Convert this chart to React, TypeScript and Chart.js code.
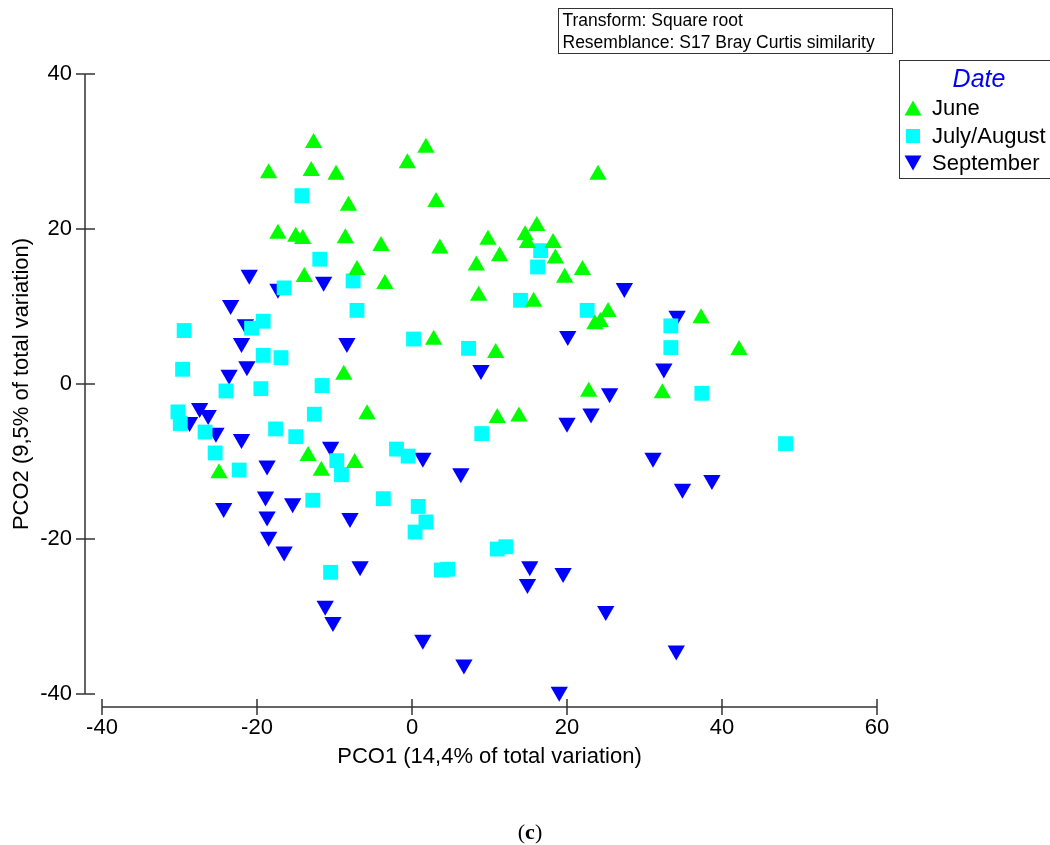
import React, { useEffect, useRef } from "react";
import { Chart, registerables } from "chart.js";

Chart.register(...registerables);

// ---- Data ----
const juneX = [-12.7, -18.5, -13.0, -9.8, -8.2, -17.3, -15.0, -14.1, -8.6, -4.0, -7.1, -13.9, -3.5, -8.8, -5.8, -13.4, -11.7, -7.4, -24.9, -0.6, 1.8, 3.1, 3.6, 2.8, 24.0, 16.1, 14.6, 14.9, 9.8, 18.2, 18.5, 11.3, 8.3, 22.0, 19.7, 8.6, 15.7, 25.3, 24.3, 23.6, 37.3, 42.2, 10.8, 22.8, 32.3, 11.0, 13.8];
const juneY = [31.1, 27.2, 27.5, 27.0, 23.0, 19.4, 19.0, 18.7, 18.8, 17.8, 14.7, 13.8, 12.9, 1.2, -3.9, -9.3, -11.2, -10.2, -11.5, 28.5, 30.5, 23.5, 17.5, 5.7, 27.0, 20.4, 19.2, 18.2, 18.6, 18.2, 16.2, 16.5, 15.3, 14.7, 13.7, 11.4, 10.6, 9.3, 8.0, 7.7, 8.5, 4.4, 4.0, -1.0, -1.2, -4.4, -4.2];

const julyAugX = [-14.2, -11.9, -16.5, -7.6, -7.1, -19.2, -20.7, -29.4, 0.2, -19.2, -16.9, -29.6, -24.0, -19.5, -11.6, -30.2, -29.9, -26.7, -12.6, -17.6, -15.0, -25.4, -22.3, -2.0, -0.5, -9.7, -9.1, -12.8, -3.7, -10.5, 0.8, 1.8, 0.4, 37.4, 48.2, 9.0, 11.0, 12.1, 3.8, 4.6, 16.6, 16.2, 14.0, 22.6, 33.4, 33.4, 7.3];
const julyAugY = [24.3, 16.1, 12.4, 13.3, 9.5, 8.1, 7.2, 6.9, 5.8, 3.7, 3.4, 1.9, -0.9, -0.6, -0.2, -3.6, -5.1, -6.2, -3.9, -5.8, -6.8, -8.9, -11.1, -8.4, -9.3, -9.9, -11.7, -15.0, -14.8, -24.3, -15.8, -17.8, -19.1, -1.2, -7.7, -6.4, -21.3, -21.0, -24.0, -23.9, 17.2, 15.1, 10.8, 9.5, 7.5, 4.7, 4.6];

const septX = [-21.0, -17.3, -11.4, -23.4, -21.5, -22.0, -21.3, -23.6, -8.4, -27.4, -26.3, -28.7, -25.3, -22.0, -10.5, -18.7, -24.3, -18.9, -15.4, -18.7, -18.5, -16.5, -8.0, -6.7, -11.2, -10.2, 25.5, 23.1, 20.0, 1.4, 6.3, 31.1, 34.9, 38.7, 15.2, 14.9, 19.5, 25.0, 1.4, 6.7, 34.1, 19.0, 27.4, 20.1, 34.2, 8.9, 32.5];
const septY = [14.1, 12.3, 13.2, 10.2, 7.7, 5.3, 2.3, 1.2, 5.3, -3.1, -4.0, -4.9, -6.3, -7.1, -8.1, -10.5, -16.0, -14.5, -15.4, -17.1, -19.7, -21.6, -17.3, -23.5, -28.6, -30.7, -1.2, -3.8, -5.0, -9.5, -11.5, -9.5, -13.5, -12.4, -23.5, -25.8, -24.4, -29.3, -33.0, -36.2, -34.4, -39.7, 12.4, 6.2, 8.8, 1.8, 2.0];

const xTicks = [-40, -20, 0, 20, 40, 60];
const yTicks = [-40, -20, 0, 20, 40];

const seriesNames = ["June", "July/August", "September"];
const seriesColors = ["#00FF00", "#00FFFF", "#0000FF"];

const FONT = "'Liberation Sans', Arial, sans-serif";

const toPoints = (xs: number[], ys: number[]) => xs.map((x, i) => ({ x, y: ys[i] }));

const detachedAxes = {
  id: "detachedAxes",
  afterDraw(chart: any) {
    const { ctx, scales } = chart;
    const xs = scales.x;
    const ys = scales.y;
    ctx.save();
    ctx.strokeStyle = "#333333";
    ctx.lineWidth = 1.5;
    const line = (x1: number, y1: number, x2: number, y2: number) => {
      ctx.beginPath();
      ctx.moveTo(x1, y1);
      ctx.lineTo(x2, y2);
      ctx.stroke();
    };
    // y axis
    const ax = xs.left - 17;
    line(ax, ys.getPixelForValue(yTicks[yTicks.length - 1]), ax, ys.getPixelForValue(yTicks[0]));
    ys.ticks.forEach((t: any) => {
      const p = ys.getPixelForValue(t.value);
      line(ax - 9, p, ax + 10, p);
    });
    // x axis
    const ay = ys.bottom + 13;
    line(xs.getPixelForValue(xTicks[0]), ay, xs.getPixelForValue(xTicks[xTicks.length - 1]), ay);
    xs.ticks.forEach((t: any) => {
      const p = xs.getPixelForValue(t.value);
      line(p, ay - 8, p, ay + 8);
    });
    ctx.restore();
  },
};

function Marker({ kind, color }: { kind: number; color: string }) {
  if (kind === 1) {
    return (
      <svg width="18" height="18" style={{ display: "block" }}>
        <rect x="2" y="2" width="14" height="14" fill={color} />
      </svg>
    );
  }
  const pts = kind === 0 ? "0.5,16.5 17.5,16.5 9,1.5" : "0.5,1.5 17.5,1.5 9,16.5";
  return (
    <svg width="18" height="18" style={{ display: "block" }}>
      <polygon points={pts} fill={color} />
    </svg>
  );
}

export default function App() {
  const canvasRef = useRef<HTMLCanvasElement | null>(null);

  useEffect(() => {
    document.body.style.margin = "0";
    const canvas = canvasRef.current;
    if (!canvas) return;
    const chart = new Chart(canvas, {
      type: "scatter",
      data: {
        datasets: [
          {
            label: seriesNames[0],
            data: toPoints(juneX, juneY),
            pointStyle: "triangle",
            pointRadius: 10,
            pointBackgroundColor: seriesColors[0],
            pointBorderWidth: 0,
            pointBorderColor: seriesColors[0],
            clip: false,
          },
          {
            label: seriesNames[1],
            data: toPoints(julyAugX, julyAugY),
            pointStyle: "rect",
            pointRadius: 10.5,
            pointBackgroundColor: seriesColors[1],
            pointBorderWidth: 0,
            pointBorderColor: seriesColors[1],
            clip: false,
          },
          {
            label: seriesNames[2],
            data: toPoints(septX, septY),
            pointStyle: "triangle",
            pointRotation: 180,
            pointRadius: 10,
            pointBackgroundColor: seriesColors[2],
            pointBorderWidth: 0,
            pointBorderColor: seriesColors[2],
            clip: false,
          },
        ],
      } as any,
      options: {
        animation: false,
        responsive: false,
        events: [],
        layout: { padding: { left: 0, right: 173, top: 74, bottom: 0 } },
        plugins: {
          legend: { display: false },
          tooltip: { enabled: false },
        },
        scales: {
          x: {
            type: "linear",
            min: -40,
            max: 60,
            afterBuildTicks: (s: any) => {
              s.ticks = xTicks.map((v) => ({ value: v }));
            },
            afterFit: (s: any) => {
              s.height = 151;
            },
            grid: { display: false, drawTicks: false },
            border: { display: false },
            ticks: { padding: 21, color: "#000", font: { family: FONT, size: 22 } },
            title: {
              display: true,
              text: "PCO1 (14,4% of total variation)",
              color: "#000",
              font: { family: FONT, size: 22 },
              padding: { top: 0, bottom: 75 },
            },
          },
          y: {
            type: "linear",
            min: -40,
            max: 40,
            afterBuildTicks: (s: any) => {
              s.ticks = yTicks.map((v) => ({ value: v }));
            },
            afterFit: (s: any) => {
              s.width = 102;
            },
            grid: { display: false, drawTicks: false },
            border: { display: false },
            ticks: { padding: 30, color: "#000", font: { family: FONT, size: 22 } },
            title: {
              display: true,
              text: "PCO2 (9,5% of total variation)",
              color: "#000",
              font: { family: FONT, size: 22 },
              padding: { top: 9, bottom: 0 },
            },
          },
        },
      } as any,
      plugins: [detachedAxes],
    });
    return () => chart.destroy();
  }, []);

  return (
    <div
      style={{
        position: "relative",
        width: 1050,
        height: 845,
        overflow: "hidden",
        background: "#fff",
        fontFamily: FONT,
      }}
    >
      <canvas ref={canvasRef} width={1050} height={845} style={{ display: "block", width: 1050, height: 845 }} />

      <div
        style={{
          position: "absolute",
          left: 558,
          top: 8,
          width: 335,
          height: 46,
          boxSizing: "border-box",
          border: "1.5px solid #333",
          paddingLeft: 3.5,
          fontSize: 17.5,
          lineHeight: "22px",
          color: "#000",
          whiteSpace: "nowrap",
        }}
      >
        <div>Transform: Square root</div>
        <div>Resemblance: S17 Bray Curtis similarity</div>
      </div>

      <div
        style={{
          position: "absolute",
          left: 899,
          top: 60,
          width: 200,
          height: 119,
          boxSizing: "border-box",
          border: "1.5px solid #333",
        }}
      >
        <div
          style={{
            position: "absolute",
            left: 0,
            width: 158,
            top: 2,
            textAlign: "center",
            color: "#0000FF",
            fontStyle: "italic",
            fontSize: 25,
            lineHeight: "30px",
          }}
        >
          Date
        </div>
        {seriesNames.map((name, i) => (
          <div
            key={name}
            style={{
              position: "absolute",
              left: 4,
              top: [34, 62, 89][i],
              height: 26,
              display: "flex",
              alignItems: "center",
              whiteSpace: "nowrap",
            }}
          >
            <Marker kind={i} color={seriesColors[i]} />
            <span style={{ marginLeft: 10, fontSize: 22, color: "#000" }}>{name}</span>
          </div>
        ))}
      </div>

      <div
        style={{
          position: "absolute",
          left: 0,
          width: 1060,
          top: 818,
          textAlign: "center",
          fontFamily: "'Liberation Serif', 'DejaVu Serif', serif",
          fontSize: 22,
          lineHeight: "28px",
          color: "#000",
        }}
      >
        (<b>c</b>)
      </div>
    </div>
  );
}
